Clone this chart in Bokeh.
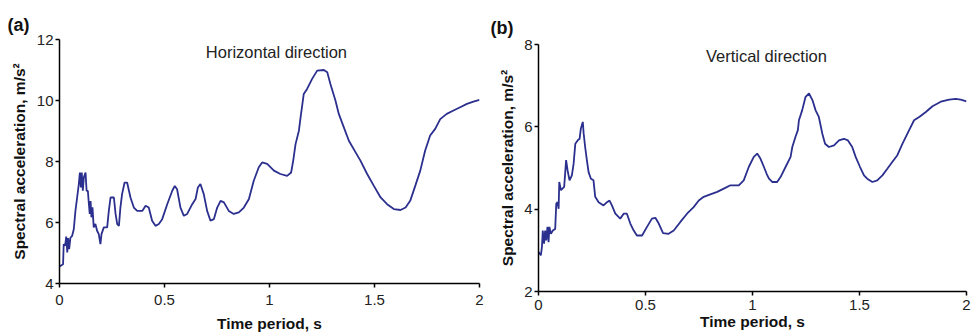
from bokeh.plotting import figure
from bokeh.layouts import row, column
from bokeh.models import Range1d, FixedTicker, Label
from bokeh.embed import file_html
from bokeh.resources import INLINE

# Horizontal direction spectrum
h_period = [0.0, 0.017, 0.02, 0.027, 0.032, 0.037, 0.041, 0.046, 0.052, 0.06, 0.068, 0.076, 0.084,
            0.092, 0.097, 0.102, 0.106, 0.111, 0.116, 0.124, 0.129, 0.135, 0.14, 0.144, 0.148, 0.152,
            0.157, 0.163, 0.171, 0.179, 0.187, 0.195, 0.2, 0.211, 0.227, 0.235, 0.243, 0.259, 0.267,
            0.275, 0.283, 0.29, 0.298, 0.31, 0.322, 0.338, 0.354, 0.37, 0.394, 0.41, 0.425, 0.441,
            0.457, 0.473, 0.489, 0.513, 0.537, 0.549, 0.56, 0.576, 0.592, 0.608, 0.632, 0.648, 0.659,
            0.671, 0.687, 0.703, 0.719, 0.735, 0.751, 0.767, 0.783, 0.806, 0.83, 0.854, 0.878, 0.902,
            0.925, 0.949, 0.965, 0.989, 1.021, 1.052, 1.084, 1.103, 1.113, 1.124, 1.14, 1.148, 1.163,
            1.179, 1.203, 1.227, 1.259, 1.275, 1.29, 1.314, 1.33, 1.354, 1.378, 1.41, 1.433, 1.465,
            1.497, 1.529, 1.56, 1.592, 1.624, 1.648, 1.67, 1.694, 1.718, 1.741, 1.765, 1.789, 1.813,
            1.844, 1.876, 1.908, 1.94, 1.971, 2.0]
h_accel = [4.56, 4.63, 5.29, 5.24, 5.54, 5.02, 5.49, 5.13, 5.5, 5.56, 5.78, 6.39, 6.82,
           7.26, 7.64, 7.15, 7.64, 7.04, 7.48, 7.64, 7.04, 7.04, 6.6, 6.28, 6.7, 6.17,
           6.5, 5.84, 5.95, 5.73, 5.62, 5.29, 5.62, 5.84, 5.84, 6.39, 6.82, 6.82, 6.28,
           5.95, 5.89, 6.49, 6.93, 7.31, 7.31, 6.82, 6.49, 6.38, 6.38, 6.55, 6.49, 6.06,
           5.89, 5.95, 6.11, 6.6, 7.04, 7.2, 7.09, 6.49, 6.22, 6.28, 6.6, 6.77, 7.15,
           7.26, 6.93, 6.38, 6.06, 6.11, 6.49, 6.71, 6.66, 6.38, 6.28, 6.33, 6.49, 6.77,
           7.37, 7.81, 7.97, 7.92, 7.7, 7.59, 7.53, 7.64, 8.03, 8.57, 9.01, 9.45, 10.21,
           10.38, 10.71, 10.98, 11.0, 10.93, 10.54, 10.0, 9.56, 9.12, 8.68, 8.3, 8.03, 7.59,
           7.2, 6.82, 6.6, 6.44, 6.41, 6.49, 6.71, 7.2, 7.7, 8.35, 8.85, 9.07, 9.39,
           9.56, 9.67, 9.78, 9.89, 9.96, 10.02]

# Vertical direction spectrum
v_period = [0.0, 0.011, 0.016, 0.02, 0.026, 0.031, 0.036, 0.042, 0.047, 0.051, 0.058, 0.067, 0.078,
            0.083, 0.089, 0.094, 0.097, 0.105, 0.12, 0.129, 0.136, 0.145, 0.156, 0.164, 0.172,
            0.183, 0.192, 0.198, 0.207, 0.211, 0.218, 0.226, 0.234, 0.245, 0.257, 0.265, 0.281,
            0.304, 0.32, 0.332, 0.343, 0.359, 0.382, 0.398, 0.413, 0.429, 0.445, 0.46, 0.484,
            0.507, 0.53, 0.546, 0.562, 0.582, 0.608, 0.632, 0.663, 0.694, 0.725, 0.749, 0.772,
            0.803, 0.835, 0.866, 0.897, 0.936, 0.959, 0.983, 1.006, 1.022, 1.037, 1.053, 1.066,
            1.077, 1.092, 1.115, 1.131, 1.155, 1.178, 1.186, 1.201, 1.212, 1.217, 1.232, 1.248,
            1.264, 1.28, 1.295, 1.31, 1.326, 1.339, 1.357, 1.381, 1.404, 1.427, 1.446, 1.466,
            1.482, 1.502, 1.521, 1.536, 1.56, 1.583, 1.607, 1.63, 1.654, 1.677, 1.701, 1.732,
            1.755, 1.779, 1.81, 1.841, 1.88, 1.919, 1.95, 1.973, 2.0]
v_accel = [2.96, 2.88, 3.08, 3.48, 3.16, 3.48, 3.24, 3.57, 3.2, 3.57, 3.4, 3.48, 3.52,
           4.13, 4.17, 4.01, 4.66, 4.46, 4.54, 5.19, 4.94, 4.7, 4.82, 5.1, 5.59,
           5.67, 5.71, 5.96, 6.12, 5.84, 5.51, 5.19, 4.9, 4.74, 4.7, 4.3, 4.17,
           4.09, 4.17, 4.21, 4.09, 3.89, 3.77, 3.89, 3.89, 3.65, 3.48, 3.36, 3.36,
           3.57, 3.77, 3.79, 3.65, 3.42, 3.4, 3.48, 3.69, 3.89, 4.05, 4.21, 4.3,
           4.36, 4.42, 4.5, 4.58, 4.58, 4.7, 5.03, 5.27, 5.35, 5.23, 5.03, 4.86,
           4.74, 4.66, 4.66, 4.78, 5.03, 5.27, 5.51, 5.76, 5.92, 6.16, 6.4, 6.73,
           6.81, 6.65, 6.4, 6.24, 5.84, 5.59, 5.51, 5.55, 5.67, 5.71, 5.67, 5.51,
           5.27, 5.03, 4.82, 4.74, 4.66, 4.7, 4.82, 4.98, 5.15, 5.31, 5.59, 5.92,
           6.16, 6.24, 6.36, 6.5, 6.61, 6.66, 6.68, 6.66, 6.62]

x_ticks = [0, 0.5, 1, 1.5, 2]
x_tick_labels = ["0", "0.5", "1", "1.5", "2"]
h_y_ticks = [4, 6, 8, 10, 12]
v_y_ticks = [2, 4, 6, 8]

LINE_COLOR = "#2b2f8e"
FONT = "Liberation Sans"


def make_fig(xs, ys, ymin, ymax, yticks, width, height, bl, br, bt, bb,
             note, note_x, note_y, panel, panel_offset, panel_standoff, ylab_standoff,
             xtick_standoff, xlab_standoff):
    p = figure(width=width, height=height, output_backend="svg", toolbar_location=None,
               title=panel,
               x_range=Range1d(0, 2), y_range=Range1d(ymin, ymax),
               min_border_left=bl, min_border_right=br, min_border_top=bt, min_border_bottom=bb)
    p.outline_line_color = None
    p.xgrid.visible = False
    p.ygrid.visible = False
    p.background_fill_color = "white"
    p.border_fill_color = "white"
    p.line(xs, ys, line_color=LINE_COLOR, line_width=1.8)

    p.title.align = "left"
    p.title.offset = panel_offset
    p.title.standoff = panel_standoff
    p.title.text_font = FONT
    p.title.text_font_size = "18px"
    p.title.text_font_style = "bold"
    p.title.text_color = "#111111"

    p.xaxis.ticker = FixedTicker(ticks=x_ticks)
    p.xaxis.major_label_overrides = {t: l for t, l in zip(x_ticks, x_tick_labels)}
    p.yaxis.ticker = FixedTicker(ticks=yticks)
    p.yaxis.major_label_overrides = {t: str(t) for t in yticks}
    for ax in (p.xaxis[0], p.yaxis[0]):
        ax.axis_line_color = "black"
        ax.axis_line_width = 1.5
        ax.major_tick_line_color = "black"
        ax.major_tick_line_width = 1.5
        ax.major_tick_in = 0
        ax.major_tick_out = 4
        ax.minor_tick_line_color = None
        ax.major_label_text_font = FONT
        ax.major_label_text_font_size = "15px"
        ax.major_label_text_color = "#222222"
        ax.axis_label_text_font = FONT
        ax.axis_label_text_font_style = "bold"
        ax.axis_label_text_font_size = "15.5px"
        ax.axis_label_text_color = "#111111"
    p.xaxis.major_label_standoff = xtick_standoff
    p.xaxis.axis_label_standoff = xlab_standoff
    p.yaxis.major_label_standoff = 2
    p.yaxis.axis_label_standoff = ylab_standoff
    p.xaxis.axis_label = "Time period, s"
    p.yaxis.axis_label = "Spectral acceleration, m/s\u00b2"

    p.add_layout(Label(x=note_x, y=note_y, text=note, text_align="center",
                       text_baseline="middle", text_font=FONT, text_font_size="16.5px",
                       text_color="#222222"))
    return p


p1 = make_fig(h_period, h_accel, 4, 12, h_y_ticks, 490, 335, 59, 11, 39, 52,
              "Horizontal direction", 1.033, 11.6, "(a)", -52, 9, 6, 7, 7)
p2 = make_fig(v_period, v_accel, 2, 8, v_y_ticks, 485, 335, 48, 9, 44, 44,
              "Vertical direction", 1.065, 7.72, "(b)", -48, 13, 5, 4, 0)

layout = row(column(p1), column(p2), spacing=0)
open("out.html", "w").write(file_html(layout, INLINE))
